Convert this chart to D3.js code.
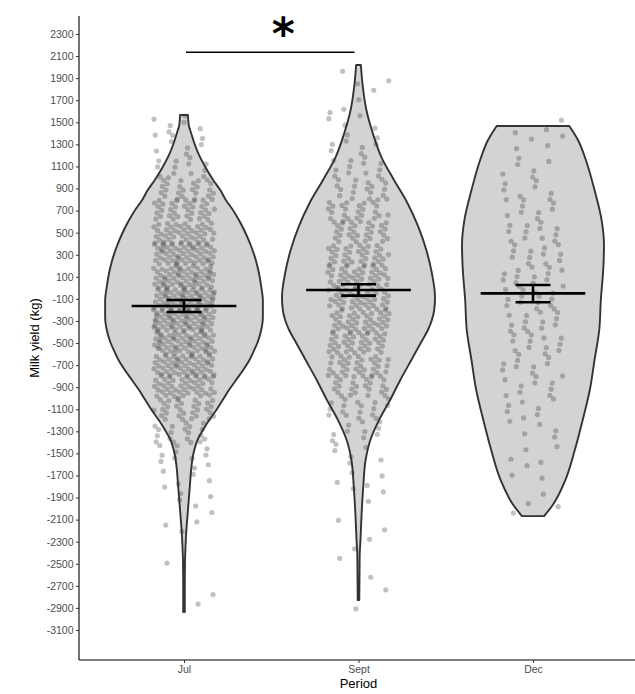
<!DOCTYPE html>
<html>
<head>
<meta charset="utf-8">
<script src="https://cdn.jsdelivr.net/npm/d3@7/dist/d3.min.js"></script>
<style>
  body { margin: 0; background: #fff; }
  svg { display: block; font-family: "Liberation Sans", Arial, sans-serif; }
</style>
</head>
<body>
<div id="container"></div>
<script>
const width = 635,
  height = 694,
  margin = { top: 16, bottom: 34, left: 79 };

/** -------------- DATA -------------- */

const periods = ["Jul", "Sept", "Dec"];

// violin outlines: [milk yield, relative density]
const julProfile = [
  [1566, 0.05], [1475, 0.06], [1403, 0.09], [1312, 0.13], [1204, 0.19], [1095, 0.27],
  [977, 0.37], [886, 0.46], [796, 0.53], [705, 0.62], [596, 0.71], [497, 0.78],
  [379, 0.85], [252, 0.91], [134, 0.95], [7, 0.98], [-110, 1.0], [-264, 1.0],
  [-409, 0.97], [-500, 0.93], [-580, 0.88], [-654, 0.83], [-745, 0.75], [-835, 0.66],
  [-926, 0.57], [-1017, 0.49], [-1107, 0.41], [-1198, 0.32], [-1289, 0.24], [-1379, 0.17],
  [-1470, 0.13], [-1560, 0.105], [-1651, 0.09], [-1787, 0.075], [-1923, 0.06], [-2059, 0.045],
  [-2195, 0.03], [-2331, 0.02], [-2467, 0.013], [-2693, 0.01], [-2938, 0.01]
];
const septProfile = [
  [2019, 0.03], [1928, 0.04], [1820, 0.055], [1611, 0.10], [1403, 0.18], [1185, 0.29],
  [977, 0.45], [769, 0.62], [551, 0.76], [343, 0.86], [134, 0.93], [-83, 0.97],
  [-200, 0.96], [-292, 0.93], [-382, 0.88], [-473, 0.81], [-654, 0.67], [-835, 0.53],
  [-1017, 0.40], [-1198, 0.26], [-1379, 0.15], [-1560, 0.09], [-1805, 0.06], [-2041, 0.04],
  [-2285, 0.025], [-2421, 0.015], [-2829, 0.01]
];
const decProfile = [
  [1466, 0.46], [1339, 0.57], [1158, 0.67], [886, 0.78], [614, 0.87], [388, 0.90],
  [161, 0.89], [-110, 0.86], [-382, 0.84], [-654, 0.78], [-926, 0.72], [-1198, 0.63],
  [-1470, 0.53], [-1742, 0.41], [-1968, 0.25], [-2068, 0.14]
];

// raw observations, counted per 200 kg bin (bin centres below)
const binCentres = [1900, 1700, 1500, 1300, 1100, 900, 700, 500, 300, 100, -100, -300, -500,
  -700, -900, -1100, -1300, -1500, -1700, -1900, -2100, -2300, -2500, -2700, -2900];
const julCounts  = [0, 0, 6, 8, 12, 25, 35, 45, 55, 60, 65, 65, 60, 55, 45, 30, 18, 10, 6, 5, 3, 1, 1, 1, 1];
const septCounts = [3, 3, 5, 8, 12, 18, 25, 30, 35, 40, 42, 40, 38, 33, 25, 17, 10, 6, 4, 3, 2, 2, 1, 2, 1];
const decCounts  = [0, 0, 3, 4, 6, 7, 9, 12, 12, 14, 14, 13, 12, 10, 9, 7, 5, 4, 3, 3, 1, 0, 0, 0, 0];

// mean and standard error limits
const means = [-165, -19, -50];
const seLow = [-219, -71, -131];
const seHigh = [-110, 32, 26];

const yTicks = d3.range(-3100, 2301, 200);

// significance annotation
const sigPair = ["Jul", "Sept"];
const sigLevel = 2134;
const sigLabel = "*";

/** -------------- SCALES -------------- */

const x = d3.scalePoint(periods, [margin.left + 0.3, 637.7]).padding(0.6);
const y = d3.scaleLinear([-3372, 2463], [height - margin.bottom, margin.top]);
const w = d3.scaleLinear([0, 1], [0, x.step() * 0.452]);
const jitter = x.step() * 0.175;

const profiles = [julProfile, septProfile, decProfile];
const counts = [julCounts, septCounts, decCounts];

// spread each bin's points evenly (quasi-random R2 sequence, no randomness)
let k = 0;
const points = [];
counts.forEach((cs, pi) => {
  cs.forEach((n, bi) => {
    for (let i = 0; i < n; i++, k++) {
      const u = (0.5 + k * 0.7548776662) % 1;
      const v = (0.5 + k * 0.5698402910) % 1;
      points.push({ period: periods[pi], value: binCentres[bi] + (v - 0.5) * 200, u });
    }
  });
});

/** -------------- APPEND TO DOM -------------- */

const svg = d3.select("#container")
  .append("svg")
  .attr("width", width)
  .attr("height", height);

// violins
const area = d3.area()
  .curve(d3.curveMonotoneY)
  .y(d => y(d[0]));

svg.append("g")
  .selectAll("path")
  .data(profiles)
  .join("path")
    .attr("d", (p, i) => area
      .x0(d => x(periods[i]) - w(d[1]))
      .x1(d => x(periods[i]) + w(d[1]))(p))
    .attr("fill", "#d3d3d3")
    .attr("stroke", "#333")
    .attr("stroke-width", 1.9)
    .attr("stroke-linejoin", "round");

// jittered points
svg.append("g")
  .selectAll("circle")
  .data(points)
  .join("circle")
    .attr("cx", d => x(d.period) + (d.u * 2 - 1) * jitter)
    .attr("cy", d => y(d.value))
    .attr("r", 2.6)
    .attr("fill", "#333")
    .attr("fill-opacity", 0.3);

// mean crossbar + standard error bars
const stats = svg.append("g")
  .attr("stroke", "#000")
  .attr("stroke-width", 2.6)
  .attr("fill", "none");

periods.forEach((p, i) => {
  const cx = x(p), mw = x.step() * 0.3, cw = x.step() * 0.1;
  stats.append("line")
    .attr("x1", cx - mw).attr("x2", cx + mw)
    .attr("y1", y(means[i])).attr("y2", y(means[i]));
  stats.append("line")
    .attr("x1", cx).attr("x2", cx)
    .attr("y1", y(seLow[i])).attr("y2", y(seHigh[i]));
  [seLow[i], seHigh[i]].forEach(v => stats.append("line")
    .attr("x1", cx - cw).attr("x2", cx + cw)
    .attr("y1", y(v)).attr("y2", y(v)));
});

// axes
const yAxis = svg.append("g")
  .attr("transform", `translate(${margin.left},0)`)
  .call(d3.axisLeft(y).tickValues(yTicks).tickFormat(d => String(d))
    .tickSize(3).tickPadding(2.5).tickSizeOuter(0));
yAxis.select(".domain")
  .attr("d", `M0,${margin.top}V${height - margin.bottom}`)
  .attr("stroke", "#000").attr("stroke-width", 1.1);

const xAxis = svg.append("g")
  .attr("transform", `translate(0,${height - margin.bottom})`)
  .call(d3.axisBottom(x).tickSize(3).tickPadding(3).tickSizeOuter(0));
xAxis.select(".domain")
  .attr("d", `M${margin.left},0H${width}`)
  .attr("stroke", "#000").attr("stroke-width", 1.1);

svg.selectAll(".tick line").attr("stroke", "#333");
svg.selectAll(".tick text")
  .attr("fill", "#4d4d4d")
  .style("font-size", "10.5px")
  .style("font-family", "'Liberation Sans', Arial, sans-serif");

// axis titles
svg.append("text")
  .attr("x", x("Sept"))
  .attr("y", 688)
  .attr("text-anchor", "middle")
  .style("font-size", "13px")
  .text("Period");

svg.append("text")
  .attr("transform", `translate(39,${(margin.top + height - margin.bottom) / 2}) rotate(-90)`)
  .attr("text-anchor", "middle")
  .style("font-size", "13px")
  .text("Milk yield (kg)");

// significance bar
svg.append("line")
  .attr("x1", x(sigPair[0]) + 2).attr("x2", x(sigPair[1]) - 4)
  .attr("y1", y(sigLevel)).attr("y2", y(sigLevel))
  .attr("stroke", "#000").attr("stroke-width", 1.6);

svg.append("text")
  .attr("x", (x(sigPair[0]) + x(sigPair[1])) / 2 + 12)
  .attr("y", 49)
  .attr("text-anchor", "middle")
  .style("font-family", "'DejaVu Sans', sans-serif")
  .style("font-weight", "bold")
  .style("font-size", "44px")
  .text(sigLabel);
</script>
</body>
</html>
